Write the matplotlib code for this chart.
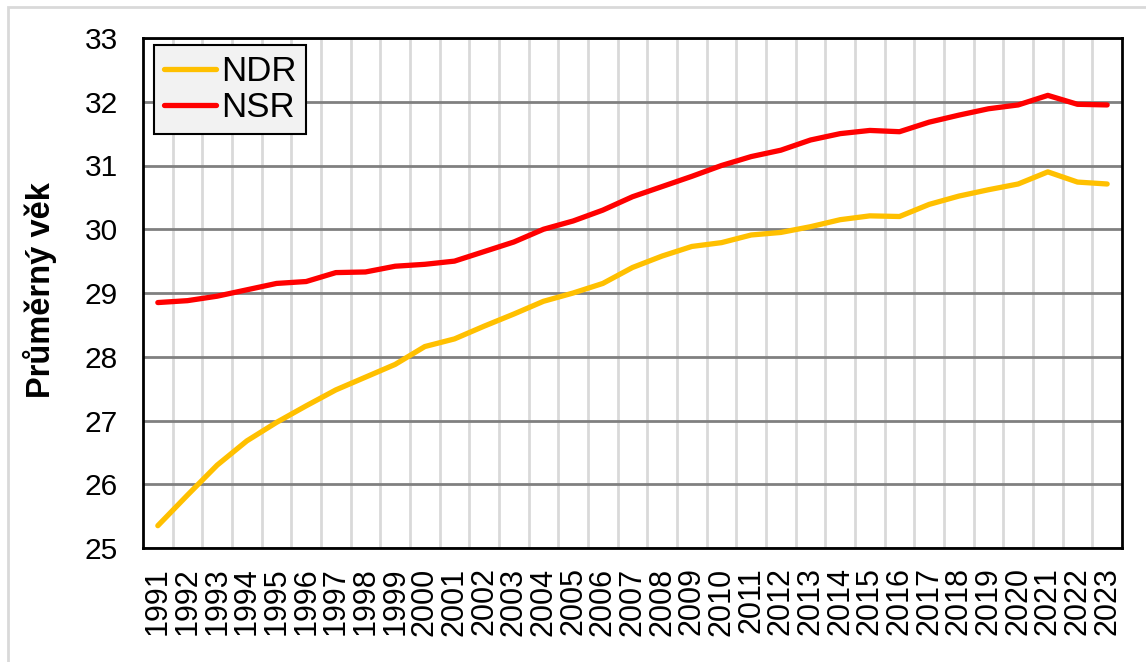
import numpy as np
import matplotlib.pyplot as plt
from matplotlib.patches import Rectangle

plt.rcParams["font.family"] = ["Liberation Sans", "DejaVu Sans"]

# === Data ===
years = [str(y) for y in range(1991, 2024)]
ndr = [25.35, 25.83, 26.30, 26.68, 26.97, 27.23, 27.48, 27.68, 27.88, 28.16,
       28.28, 28.48, 28.67, 28.87, 29.00, 29.15, 29.40, 29.58, 29.73, 29.79,
       29.91, 29.95, 30.04, 30.15, 30.21, 30.20, 30.39, 30.52, 30.62, 30.71,
       30.90, 30.74, 30.71]
nsr = [28.85, 28.88, 28.95, 29.05, 29.15, 29.18, 29.32, 29.33, 29.42, 29.45,
       29.50, 29.65, 29.80, 30.00, 30.13, 30.30, 30.51, 30.67, 30.83, 31.00,
       31.14, 31.24, 31.40, 31.50, 31.55, 31.53, 31.68, 31.79, 31.89, 31.95,
       32.10, 31.96, 31.95]
y_ticks = list(range(25, 34))

# === Figure ===
W, H = 1146, 662
fig = plt.figure(figsize=(W / 100, H / 100), dpi=100)
ax = fig.add_axes([143 / W, (H - 548) / H, 979 / W, 510 / H])

x = np.arange(len(years))
ax.plot(x, ndr, color="#FFC000", lw=3.8, label="NDR", solid_capstyle="round", zorder=3)
ax.plot(x, nsr, color="#FF0000", lw=3.8, label="NSR", solid_capstyle="round", zorder=3)

ax.set_xlim(-0.5, len(years) - 0.5)
ax.set_ylim(25, 33)
ax.set_yticks(y_ticks)
ax.set_xticks(x)
ax.set_xticklabels(years, rotation=90)
ax.set_xticks(np.arange(0.5, len(years) - 1, 1), minor=True)

ax.tick_params(axis="y", length=0, pad=18, labelsize=21.5)
ax.tick_params(axis="x", which="both", length=0, pad=14, labelsize=22)

ax.grid(axis="y", which="major", color="#808080", lw=2, zorder=1)
ax.grid(axis="x", which="minor", color="#d9d9d9", lw=2, zorder=0)
ax.grid(axis="x", which="major", visible=False)

for sp in ax.spines.values():
    sp.set_color("black")
    sp.set_linewidth(2)

fig.text(40 / W, 1 - 290 / H, "Průměrný věk", rotation=90, ha="center",
         va="center", fontsize=23.5, fontweight="bold")

leg = ax.legend(loc="upper left", bbox_to_anchor=(11 / 979, 1 - 7 / 510),
                borderaxespad=0, fontsize=25, handlelength=1.5,
                handletextpad=0.15, borderpad=0.28, labelspacing=0.1,
                fancybox=False, framealpha=1, facecolor="#f2f2f2",
                edgecolor="black")
leg.get_frame().set_linewidth(1.5)

# light outer border of the chart area
fig.patches.append(Rectangle((8 / W, -0.1), 1.2, 1.1 - 7 / H, fill=False,
                             edgecolor="#d9d9d9", lw=2,
                             transform=fig.transFigure, figure=fig))

fig.savefig("out.png", dpi=100)
